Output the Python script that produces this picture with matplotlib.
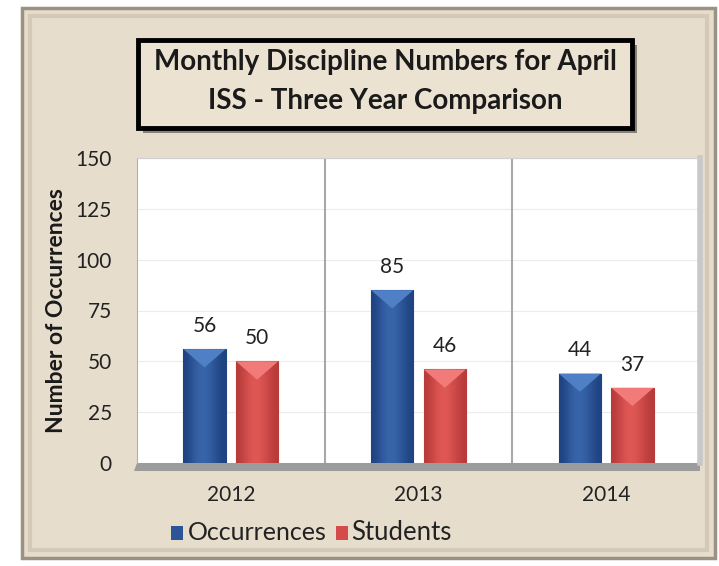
import numpy as np
import matplotlib.pyplot as plt
from matplotlib.patches import Rectangle, Polygon
from matplotlib.colors import LinearSegmentedColormap

plt.rcParams['font.family'] = ['Lato', 'DejaVu Sans']

years = ['2012', '2013', '2014']
occurrences = [56, 85, 44]
students = [50, 46, 37]
yticks = [0, 25, 50, 75, 100, 125, 150]

blue = '#2c5597'
blue_top = '#4f7fc4'
red = '#d44c4a'
red_top = '#f27a78'
beige = '#e7ddcc'

fig = plt.figure(figsize=(7.19, 5.66), dpi=100)
fig.patch.set_facecolor('white')
W, H = 719.0, 566.0


def fig_rect(x, y, w, h, **kw):
    # pixel box (top-left origin) -> figure patch
    r = Rectangle((x / W, 1 - (y + h) / H), w / W, h / H,
                  transform=fig.transFigure, **kw)
    fig.patches.append(r)
    return r


# beige panel with a bevel edge
fig_rect(22, 8, 693, 550, facecolor=beige, edgecolor='#9a9384', linewidth=2.5, zorder=-3)
fig_rect(30, 16, 677, 534, facecolor='none', edgecolor='#d3c9b6', linewidth=3, zorder=-3)

# title box with shadow
fig_rect(143, 45, 494, 88, facecolor='#3a352e', alpha=0.55, edgecolor='none', zorder=-2)
fig_rect(138, 40, 494, 88, facecolor='#ebe2d2', edgecolor='black', linewidth=3.5, zorder=-1)
fig.text(385 / W, 1 - 62 / H, 'Monthly Discipline Numbers for April',
         ha='center', va='center', fontsize=20, fontweight='bold', color='#1a1a1a')
fig.text(385 / W, 1 - 101 / H, 'ISS - Three Year Comparison',
         ha='center', va='center', fontsize=20, fontweight='bold', color='#1a1a1a')

ax = fig.add_axes([137 / W, 1 - 463 / H, 563 / W, 305 / H])
ax.set_facecolor('white')
ax.set_zorder(2)
x = np.arange(len(years))
w = 0.225
off = 0.14

ax.set_xlim(-0.5, 2.5)
ax.set_ylim(0, 150)
ax.set_yticks(yticks)
ax.set_xticks(x)
ax.set_xticklabels(years)
ax.tick_params(axis='both', length=0, labelsize=15, colors='#222222')
ax.tick_params(axis='y', pad=18)
ax.tick_params(axis='x', pad=16)
for s in ax.spines.values():
    s.set_visible(False)
ax.spines['left'].set_visible(True)
ax.spines['left'].set_color('#b0b0b0')
ax.spines['right'].set_visible(True)
ax.spines['right'].set_color('#c8c8c8')
ax.spines['right'].set_linewidth(4)
ax.spines['top'].set_visible(True)
ax.spines['top'].set_color('#d0d0d0')

ax.grid(axis='y', color='#ececec', linewidth=0.8)
for b in [0.5, 1.5]:
    ax.axvline(b, color='#a8a8a8', linewidth=1.5, zorder=1)
ax.set_axisbelow(True)

# floor under the plot area
floor = Polygon([[0, 0], [1, 0], [1.0, -0.025], [-0.005, -0.025]], closed=True,
                transform=ax.transAxes, facecolor='#9c9c9c', edgecolor='none',
                clip_on=False, zorder=0)
ax.add_patch(floor)

b1 = ax.bar(x - off, occurrences, w, color=blue, edgecolor='#21457c', linewidth=0.8, zorder=3)
b2 = ax.bar(x + off, students, w, color=red, edgecolor='#b33b3a', linewidth=0.8, zorder=3)

# cylinder-ish shading across each bar, plus bevelled tops
shade = np.array([[0.0, 0.35, 0.6, 0.5, 0.25, 0.0]])
cmaps = {
    'b': LinearSegmentedColormap.from_list('b', ['#1f4382', '#3a68ad']),
    'r': LinearSegmentedColormap.from_list('r', ['#b83b3a', '#e25a57']),
}
for bars, topc, key in [(b1, blue_top, 'b'), (b2, red_top, 'r')]:
    for r in bars:
        x0 = r.get_x()
        bw = r.get_width()
        h = r.get_height()
        im = ax.imshow(shade, cmap=cmaps[key], aspect='auto', interpolation='bicubic',
                       extent=(x0, x0 + bw, 0, h), zorder=3.5, vmin=0, vmax=0.6)
        im.set_clip_path(r)
        tri = Polygon([[x0, h], [x0 + bw, h], [x0 + bw / 2, h - 9]], closed=True,
                      facecolor=topc, edgecolor='none', zorder=4)
        ax.add_patch(tri)
ax.set_xlim(-0.5, 2.5)
ax.set_ylim(0, 150)

for bars, vals in [(b1, occurrences), (b2, students)]:
    for r, v in zip(bars, vals):
        ax.text(r.get_x() + r.get_width() / 2, v + 6.5, str(v), ha='center',
                va='bottom', fontsize=15, color='#222222')

ax.set_ylabel('Number of Occurrences', fontsize=16.5, fontweight='bold',
              color='#1a1a1a', labelpad=6)

# legend
fig_rect(171, 526, 12, 14, facecolor=blue, edgecolor='none')
fig.text(188 / W, 1 - 533 / H, 'Occurrences', ha='left', va='center',
         fontsize=18, color='#222222')
fig_rect(336, 526, 12, 14, facecolor=red, edgecolor='none')
fig.text(351 / W, 1 - 533 / H, 'Students', ha='left', va='center',
         fontsize=18.5, color='#222222')

fig.savefig('out.png', dpi=100)
